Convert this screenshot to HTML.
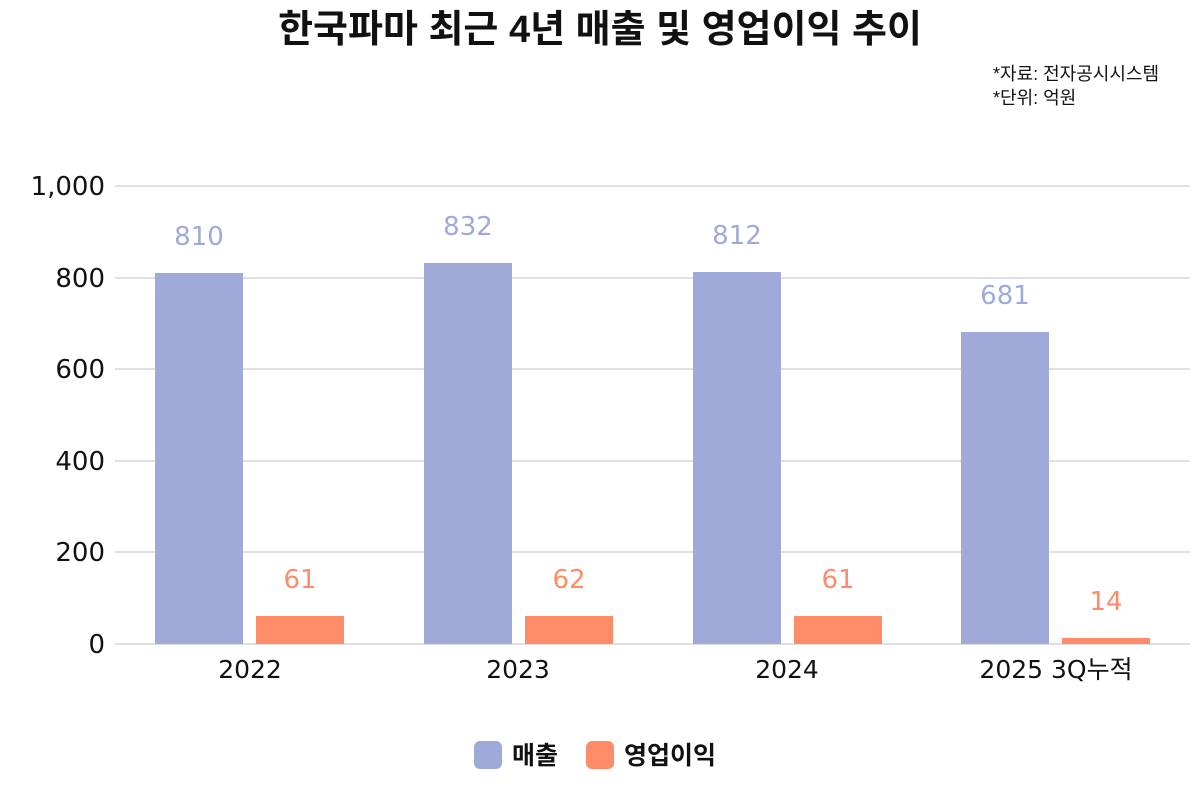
<!DOCTYPE html>
<html><head><meta charset="utf-8"><style>
body{margin:0;background:#fff;font-family:"Liberation Sans","Noto Sans CJK KR",sans-serif;}
</style></head><body>
<svg width="1200" height="800" xmlns="http://www.w3.org/2000/svg" style="font-family:'Liberation Sans','Noto Sans CJK KR',sans-serif">
<rect width="1200" height="800" fill="#fff"/>
<text x="600" y="42" text-anchor="middle" font-size="38" font-weight="bold" fill="#111">한국파마 최근 4년 매출 및 영업이익 추이</text>
<text x="993" y="80" font-size="18" fill="#111">*자료: 전자공시시스템</text>
<text x="993" y="104" font-size="18" fill="#111">*단위: 억원</text>
<g stroke="#d6d6d6" stroke-width="1.5">
<line x1="115" x2="1190" y1="186" y2="186"/><line x1="115" x2="1190" y1="278" y2="278"/>
<line x1="115" x2="1190" y1="369" y2="369"/><line x1="115" x2="1190" y1="461" y2="461"/>
<line x1="115" x2="1190" y1="552" y2="552"/><line x1="115" x2="1190" y1="644" y2="644"/>
</g>
<g font-size="26" fill="#111" text-anchor="end" font-family="DejaVu Sans, sans-serif">
<text x="105" y="195">1,000</text><text x="105" y="287">800</text><text x="105" y="378">600</text>
<text x="105" y="470">400</text><text x="105" y="561">200</text><text x="105" y="653">0</text>
</g>
<g fill="#a0aad8">
<rect x="155" y="273" width="88" height="371"/><rect x="424" y="263" width="88" height="381"/>
<rect x="693" y="272" width="88" height="372"/><rect x="961" y="332" width="88" height="312"/>
</g>
<g fill="#ff8c69">
<rect x="256" y="616" width="88" height="28"/><rect x="525" y="616" width="88" height="28"/>
<rect x="794" y="616" width="88" height="28"/><rect x="1062" y="638" width="88" height="6"/>
</g>
<g font-size="26" fill="#a0aad8" text-anchor="middle" font-family="DejaVu Sans, sans-serif">
<text x="199" y="245">810</text><text x="468" y="235">832</text><text x="737" y="244">812</text><text x="1005" y="304">681</text>
</g>
<g font-size="26" fill="#ff8c69" text-anchor="middle" font-family="DejaVu Sans, sans-serif">
<text x="300" y="588">61</text><text x="569" y="588">62</text><text x="838" y="588">61</text><text x="1106" y="610">14</text>
</g>
<g font-size="25" fill="#111" text-anchor="middle" font-family="DejaVu Sans, Noto Sans CJK KR, sans-serif">
<text x="250" y="678">2022</text><text x="518" y="678">2023</text><text x="787" y="678">2024</text><text x="1056" y="678">2025 3Q누적</text>
</g>
<rect x="474" y="741" width="28" height="28" rx="6" fill="#a0aad8"/>
<text x="512" y="764" font-size="25" font-weight="bold" fill="#111">매출</text>
<rect x="586" y="741" width="28" height="28" rx="6" fill="#ff8c69"/>
<text x="624" y="764" font-size="25" font-weight="bold" fill="#111">영업이익</text>
</svg>
</body></html>
